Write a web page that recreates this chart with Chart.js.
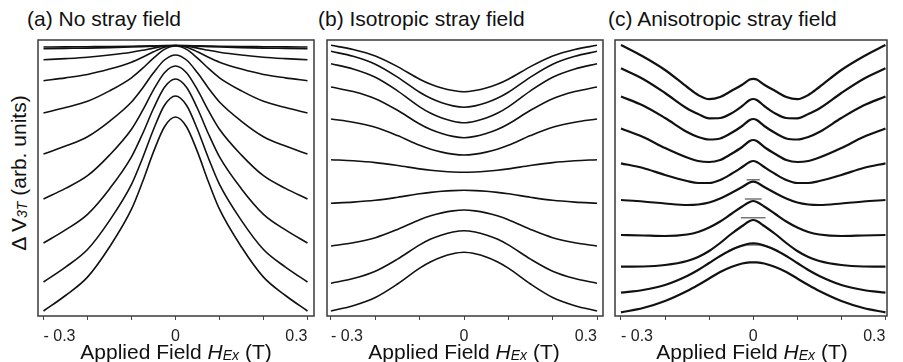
<!DOCTYPE html>
<html>
<head>
<meta charset="utf-8">
<script src="https://cdn.jsdelivr.net/npm/chart.js@4.4.1/dist/chart.umd.min.js"></script>
<style>
  body { margin: 0; background: #fff; }
  #page { position: relative; width: 903px; height: 362px; overflow: hidden; font-family: "Liberation Sans", Arial, sans-serif; color: #111; }
  .panel { position: absolute; top: 30px; height: 316px; }
  .title { position: absolute; top: 8px; font-size: 21px; line-height: 21px; white-space: nowrap; }
  .xtitle { position: absolute; top: 341px; font-size: 21px; line-height: 21px; white-space: nowrap; transform: translateX(-50%); }
  .ytitle { position: absolute; left: 20px; top: 173px; font-size: 21px; line-height: 21px; white-space: nowrap; transform: translate(-50%, -50%) rotate(-90deg); }
  .it { font-style: italic; }
  .sub { font-style: italic; font-size: 14px; position: relative; top: 1px; }
</style>
</head>
<body>
<div id="page">
  <div class="title" style="left:27px">(a) No stray field</div>
  <div class="title" style="left:318px">(b) Isotropic stray field</div>
  <div class="title" style="left:608px">(c) Anisotropic stray field</div>

  <div class="ytitle">Δ V<span class="sub">3T</span> (arb. units)</div>

  <div class="panel" style="left:26px;width:300px"><canvas id="chartA"></canvas></div>
  <div class="panel" style="left:315px;width:300px"><canvas id="chartB"></canvas></div>
  <div class="panel" style="left:603px;width:296px"><canvas id="chartC"></canvas></div>

  <div class="xtitle" style="left:176px">Applied Field <span class="it">H</span><span class="sub">Ex</span> (T)</div>
  <div class="xtitle" style="left:464px">Applied Field <span class="it">H</span><span class="sub">Ex</span> (T)</div>
  <div class="xtitle" style="left:752px">Applied Field <span class="it">H</span><span class="sub">Ex</span> (T)</div>
</div>

<script>
// applied field (T)
const fieldAB = [-0.3, -0.25, -0.2, -0.15, -0.1, -0.075, -0.05, -0.025, 0, 0.025, 0.05, 0.075, 0.1, 0.15, 0.2, 0.25, 0.3];
const fieldC = [-0.3, -0.25, -0.2, -0.15, -0.125, -0.1, -0.075, -0.05, -0.025, -0.008, 0, 0.008, 0.025, 0.05, 0.075, 0.1, 0.125, 0.15, 0.2, 0.25, 0.3];

const tickValues = [-0.3, -0.2, -0.1, 0, 0.1, 0.2, 0.3];
const tickLabels = ['- 0.3', '', '', '0', '', '', '0.3'];

// (a) no stray field, top to bottom
const noStray = [
  [269, 269.1, 269.3, 269.5, 269.8, 270, 270.2, 270.4, 270.5, 270.4, 270.2, 270, 269.8, 269.5, 269.3, 269.1, 269],
  [267.3, 267.6, 267.9, 268.4, 269, 269.4, 269.9, 270.3, 270.5, 270.3, 269.9, 269.4, 269, 268.4, 267.9, 267.6, 267.3],
  [256.3, 257.4, 258.8, 261, 263.8, 265.7, 267.9, 269.8, 270.5, 269.8, 267.9, 265.7, 263.8, 261, 258.8, 257.4, 256.3],
  [235.3, 238.1, 241.5, 246.9, 253.8, 258.7, 264.2, 268.7, 270.5, 268.7, 264.2, 258.7, 253.8, 246.9, 241.5, 238.1, 235.3],
  [203, 208.4, 214.7, 225.1, 238.2, 247.6, 257.9, 266.6, 270, 266.6, 257.9, 247.6, 238.2, 225.1, 214.7, 208.4, 203],
  [162, 169.9, 179.3, 194.7, 214, 227.8, 243.2, 256, 261, 256, 243.2, 227.8, 214, 194.7, 179.3, 169.9, 162],
  [117, 127.6, 140.3, 160.9, 186.8, 205.4, 226.1, 243.3, 250, 243.3, 226.1, 205.4, 186.8, 160.9, 140.3, 127.6, 117],
  [73, 86.1, 101.7, 127.1, 159.1, 182, 207.5, 228.8, 237, 228.8, 207.5, 182, 159.1, 127.1, 101.7, 86.1, 73],
  [34, 48.9, 66.5, 95.4, 131.6, 157.7, 186.5, 210.7, 220, 210.7, 186.5, 157.7, 131.6, 95.4, 66.5, 48.9, 34],
  [5, 20.5, 38.9, 69, 106.8, 134, 164.1, 189.3, 199, 189.3, 164.1, 134, 106.8, 69, 38.9, 20.5, 5]
];

// (b) isotropic stray field
const isoStray = [
  [270.7, 266.5, 260, 249.4, 236.8, 231.7, 228, 225.5, 224.3, 225.5, 228, 231.7, 236.8, 249.4, 260, 266.5, 270.7],
  [264.7, 259.7, 251.8, 238.9, 223.8, 217.7, 213.2, 210.1, 208.7, 210.1, 213.2, 217.7, 223.8, 238.9, 251.8, 259.7, 264.7],
  [252.3, 247, 238.7, 225.2, 209.2, 202.7, 198, 194.8, 193.3, 194.8, 198, 202.7, 209.2, 225.2, 238.7, 247, 252.3],
  [229, 224.4, 217.3, 205.7, 192, 186.4, 182.4, 179.6, 178.3, 179.6, 182.4, 186.4, 192, 205.7, 217.3, 224.4, 229],
  [197, 193.8, 188.7, 180.4, 170.7, 166.8, 163.9, 161.9, 161, 161.9, 163.9, 166.8, 170.7, 180.4, 188.7, 193.8, 197],
  [156.3, 155.2, 153.4, 150.5, 147.1, 145.7, 144.7, 144, 143.7, 144, 144.7, 145.7, 147.1, 150.5, 153.4, 155.2, 156.3],
  [112.7, 113.9, 115.7, 118.7, 122.2, 123.6, 124.7, 125.4, 125.7, 125.4, 124.7, 123.6, 122.2, 118.7, 115.7, 113.9, 112.7],
  [70, 73.2, 78.3, 86.6, 96.3, 100.2, 103.1, 105.1, 106, 105.1, 103.1, 100.2, 96.3, 86.6, 78.3, 73.2, 70],
  [32.7, 37.4, 44.8, 56.9, 71.1, 76.9, 81.1, 84, 85.3, 84, 81.1, 76.9, 71.1, 56.9, 44.8, 37.4, 32.7],
  [5, 10.3, 18.5, 32, 47.9, 54.3, 59, 62.2, 63.7, 62.2, 59, 54.3, 47.9, 32, 18.5, 10.3, 5]
];

// (c) anisotropic stray field
const anisoStray = [
  [271, 259.5, 246, 229, 221, 216.8, 219, 225, 231.3, 236.5, 237.2, 236.5, 231.3, 225, 219, 216.8, 221, 229, 246, 259.5, 271],
  [247.7, 237, 223, 207.5, 202, 197.7, 198, 202.5, 210, 216, 217, 216, 210, 202.5, 198, 197.7, 202, 207.5, 223, 237, 247.7],
  [219.5, 210.5, 198, 184, 179, 176.5, 177.5, 183, 190, 196, 197, 196, 190, 183, 177.5, 176.5, 179, 184, 198, 210.5, 219.5],
  [187.5, 179, 168, 158.5, 155, 154, 156, 162, 169, 175, 176, 175, 169, 162, 156, 154, 155, 158.5, 168, 179, 187.5],
  [152.7, 148, 141, 135, 133, 133, 136, 142, 149, 154, 155, 154, 149, 142, 136, 133, 133, 135, 141, 148, 152.7],
  [116, 114.5, 112.5, 111, 111.5, 113.5, 117.5, 123, 129, 133.5, 134.3, 133.5, 129, 123, 117.5, 113.5, 111.5, 111, 112.5, 114.5, 116],
  [81, 80.5, 80, 81.5, 84, 88.5, 94.5, 102, 109.5, 114, 115, 114, 109.5, 102, 94.5, 88.5, 84, 81.5, 80, 80.5, 81],
  [49.3, 49.5, 51, 55, 59, 65, 73, 82, 90, 95, 96, 95, 90, 82, 73, 65, 59, 55, 51, 49.5, 49.3],
  [23.3, 26, 31, 40, 46, 53, 60, 66, 70.5, 72.5, 72.7, 72.5, 70.5, 66, 60, 53, 46, 40, 31, 26, 23.3],
  [3.7, 8, 15, 25, 31, 37.5, 44, 49, 52.5, 53.6, 53.7, 53.6, 52.5, 49, 44, 37.5, 31, 25, 15, 8, 3.7]
];

// the little caps drawn over the peaks in (c)
const capFields = [[-0.015, 0.015], [-0.019, 0.019], [-0.028, 0.028], [-0.057, -0.03, 0, 0.03, 0.057]];
const capValues = [[136.2, 136.2], [117, 117], [98.2, 98.2], [65, 69.8, 71.3, 69.8, 65]];

const FONT = 'Liberation Sans';

const frame = {
  id: 'frame',
  afterDatasetsDraw(chart) {
    const { ctx, chartArea: a } = chart;
    ctx.save();
    ctx.strokeStyle = '#3a3a3a';
    ctx.lineWidth = 1.5;
    ctx.strokeRect(a.left, a.top, a.right - a.left, a.bottom - a.top);
    ctx.restore();
  }
};

const toPoints = (xs, ys) => xs.map((x, i) => ({ x: x, y: ys[i] }));

const makePanel = (id, xs, series, xMin, xMax, width, extra) => {
  const datasets = series.map(ys => ({
    data: toPoints(xs, ys),
    borderColor: '#111',
    borderWidth: width,
    cubicInterpolationMode: 'monotone',
    pointRadius: 0
  }));
  return new Chart(document.getElementById(id), {
    type: 'line',
    data: { datasets: datasets.concat(extra || []) },
    options: {
      responsive: true,
      maintainAspectRatio: false,
      animation: false,
      events: [],
      layout: { padding: { left: 12, right: 12, top: 10, bottom: 0 } },
      plugins: { legend: { display: false }, tooltip: { enabled: false } },
      scales: {
        x: {
          type: 'linear',
          min: xMin,
          max: xMax,
          afterBuildTicks: s => { s.ticks = tickValues.map(v => ({ value: v })); },
          afterFit: s => { s.height = 30; },
          border: { display: false },
          grid: { drawOnChartArea: false, drawTicks: true, tickLength: 4, color: '#444', lineWidth: 1 },
          ticks: {
            align: 'inner',
            padding: 7,
            maxRotation: 0,
            autoSkip: false,
            color: '#222',
            font: { family: FONT, size: 16 },
            callback: (v, i) => tickLabels[i]
          }
        },
        y: { type: 'linear', display: false, min: 0, max: 276 }
      }
    },
    plugins: [frame]
  });
};

window.onload = () => {
  makePanel('chartA', fieldAB, noStray, -0.3125, 0.3148, 1.6);
  makePanel('chartB', fieldAB, isoStray, -0.309, 0.3135, 1.6);
  const caps = capFields.map((xs, i) => ({
    data: toPoints(xs, capValues[i]),
    borderColor: i === 3 ? '#888' : '#555',
    borderWidth: i === 3 ? 2 : 1.2,
    tension: 0.3,
    pointRadius: 0
  }));
  makePanel('chartC', fieldC, anisoStray, -0.3136, 0.3035, 2.2, caps);
};
</script>
</body>
</html>
